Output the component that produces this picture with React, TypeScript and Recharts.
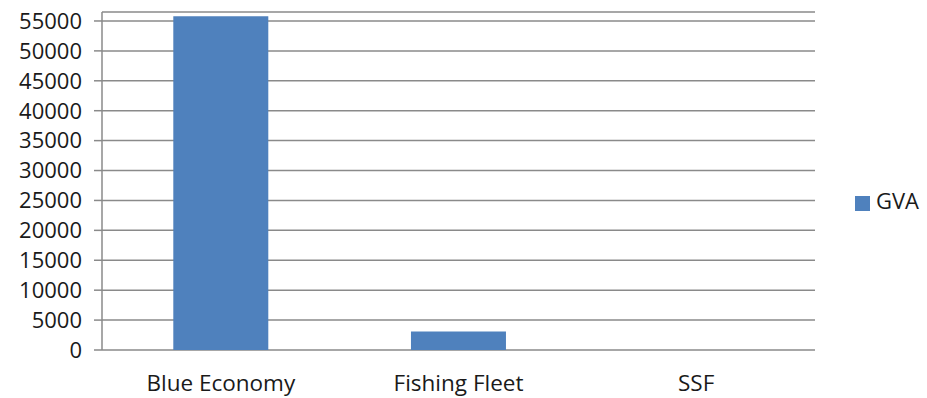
import React from "react";
import { BarChart, Bar, XAxis, YAxis, CartesianGrid, Legend } from "recharts";

const categories = ["Blue Economy", "Fishing Fleet", "SSF"];
const gva = [55800, 3100, 0];
const yTicks = [0, 5000, 10000, 15000, 20000, 25000, 30000, 35000, 40000, 45000, 50000, 55000];
const boundaryTicks = [0, 1, 2, 3];

const data = categories.map((c, i) => ({ name: c, GVA: gva[i] }));

const FONT = "'Open Sans', sans-serif";
const GRID = "#8a8a8a";

export default function App() {
  return (
    <div style={{ position: "absolute", left: 0, top: 0, background: "#fff" }}>
      <BarChart
        width={927}
        height={398}
        data={data}
        margin={{ top: 12, right: 112, bottom: 8, left: 0 }}
        barCategoryGap="30%"
      >
        <CartesianGrid vertical={false} stroke={GRID} strokeWidth={1.5} />
        <XAxis
          xAxisId="b"
          type="number"
          domain={[0, 3]}
          ticks={boundaryTicks}
          height={0}
          tick={false}
          tickSize={9}
          stroke={GRID}
          strokeWidth={1.5}
          allowDataOverflow
        />
        <XAxis
          xAxisId="cat"
          dataKey="name"
          height={40}
          axisLine={false}
          tickLine={false}
          tickSize={0}
          tickMargin={25}
          tick={{ fill: "#1a1a1a", fontSize: 22.5, fontFamily: FONT }}
        />
        <YAxis
          width={102}
          domain={[0, 56500]}
          ticks={yTicks}
          allowDataOverflow
          interval={0}
          tickSize={8}
          tickMargin={12}
          stroke={GRID}
          strokeWidth={1.5}
          tick={{ fill: "#1a1a1a", fontSize: 22, fontFamily: FONT }}
        />
        <Legend
          layout="horizontal"
          verticalAlign="middle"
          align="center"
          iconType="square"
          iconSize={15}
          wrapperStyle={{ left: 852, top: 185, width: 80, fontFamily: FONT, fontSize: 22 }}
          formatter={(v) => <span style={{ color: "#1a1a1a", fontSize: 22, marginLeft: 2 }}>{v}</span>}
        />
        <Bar xAxisId="cat" dataKey="GVA" fill="#4F81BD" isAnimationActive={false} />
      </BarChart>
    </div>
  );
}
